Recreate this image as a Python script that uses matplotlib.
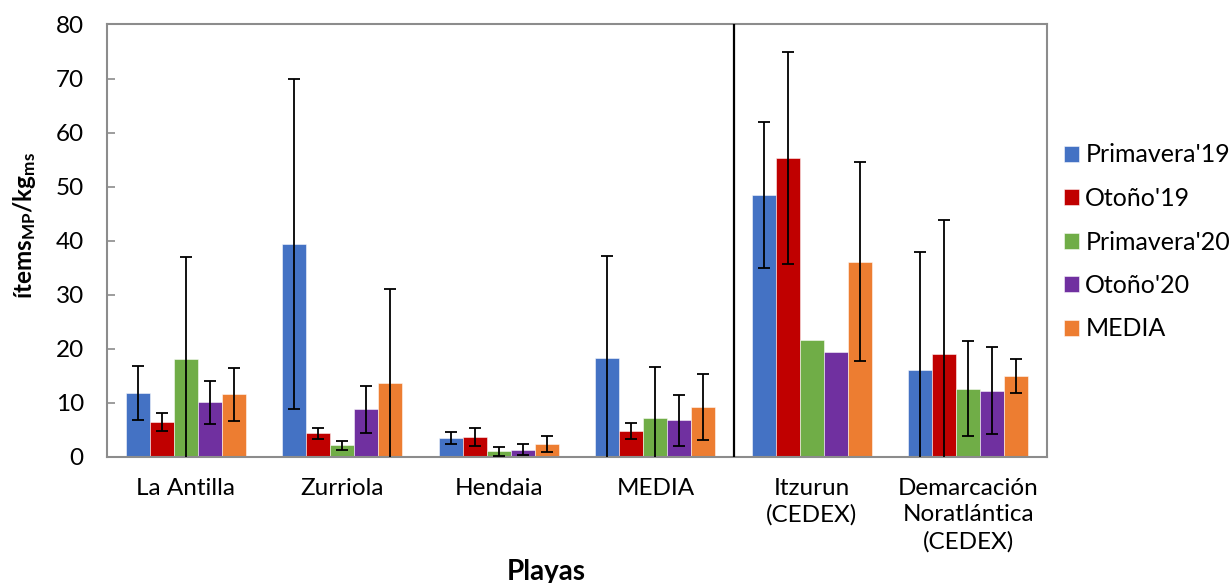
import numpy as np
import matplotlib
matplotlib.use("Agg")
import matplotlib.pyplot as plt

plt.rcParams["font.family"] = ["Lato", "DejaVu Sans"]
plt.rcParams["mathtext.fontset"] = "custom"
plt.rcParams["mathtext.rm"] = "Lato"
plt.rcParams["mathtext.bf"] = "Lato:bold"
plt.rcParams["mathtext.default"] = "bf"

# ---------------------------------------------------------------------------
# Data: mean concentration per beach and season, with standard deviation
# ---------------------------------------------------------------------------
playas = ["La Antilla", "Zurriola", "Hendaia", "MEDIA",
          "Itzurun\n(CEDEX)", "Demarcación\nNoratlántica\n(CEDEX)"]
series = ["Primavera'19", "Otoño'19", "Primavera'20", "Otoño'20", "MEDIA"]

primavera19 = [11.8, 39.4, 3.46, 18.2, 48.5, 16.0]
otono19 = [6.37, 4.33, 3.65, 4.76, 55.3, 19.1]
primavera20 = [18.0, 2.1, 1.0, 7.1, 21.55, 12.55]
otono20 = [10.07, 8.77, 1.3, 6.73, 19.4, 12.22]
media = [11.55, 13.7, 2.35, 9.2, 36.1, 14.94]

sd_primavera19 = [5.05, 30.6, 1.1, 18.9, 13.5, 21.85]
sd_otono19 = [1.65, 1.0, 1.73, 1.4, 19.6, 24.8]
sd_primavera20 = [18.9, 0.77, 0.88, 9.45, np.nan, 8.8]
sd_otono20 = [3.95, 4.38, 1.05, 4.7, np.nan, 8.0]
sd_media = [4.85, 17.4, 1.4, 6.1, 18.4, 3.2]

colors = ["#4472C4", "#C00000", "#70AD47", "#7030A0", "#ED7D31"]

values = [primavera19, otono19, primavera20, otono20, media]
errors = [sd_primavera19, sd_otono19, sd_primavera20, sd_otono20, sd_media]

# ---------------------------------------------------------------------------
# Figure
# ---------------------------------------------------------------------------
fig = plt.figure(figsize=(12.31, 5.83), dpi=100)
ax = fig.add_axes([0.0873, 0.2166, 0.7630, 0.7414])

x = np.arange(len(playas))
width = 0.1534
offsets = (np.arange(len(series)) - 2) * width

for vals, errs, col, name, off in zip(values, errors, colors, series, offsets):
    vals = np.asarray(vals, dtype=float)
    errs = np.asarray(errs, dtype=float)
    ax.bar(x + off, vals, width, color=col, edgecolor=(1, 1, 1, 0.6),
           linewidth=0.6, label=name, zorder=2)
    ok = np.isfinite(errs)
    ax.errorbar(x[ok] + off, vals[ok], yerr=errs[ok], fmt="none",
                ecolor="black", elinewidth=1.3, capsize=4.5, capthick=1.3,
                zorder=3)

# separator between study beaches and CEDEX references
ax.axvline(3.5, color="black", lw=1.6, zorder=4)

ax.set_xlim(-0.5, len(playas) - 0.5)
ax.set_ylim(0, 80)
ax.set_yticks(np.arange(0, 81, 10))
ax.set_xticks(x)
ax.set_xticklabels(playas, fontsize=17.5, linespacing=1.32)
ax.tick_params(axis="x", length=0, pad=15)
ax.tick_params(axis="y", labelsize=17.5, length=6, width=1.2,
               color="#8C8C8C", direction="in", pad=17)

for s in ax.spines.values():
    s.set_color("#8C8C8C")
    s.set_linewidth(1.5)

ax.set_ylabel("ítems$_{MP}$/kg$_{ms}$", fontsize=17.5, fontweight="bold")
ax.yaxis.set_label_coords(-0.074, 0.536)
fig.text(546 / 1231, 1 - 572 / 583, "Playas", fontsize=20,
         fontweight="bold", ha="center", va="center")

fig.legend(loc="center left", bbox_to_anchor=(1054 / 1231, 1 - 242 / 583),
           frameon=False, fontsize=18, handlelength=0.6, handleheight=0.6,
           handletextpad=0.25, labelspacing=0.82, borderaxespad=0)

fig.savefig("out.png", dpi=100)
